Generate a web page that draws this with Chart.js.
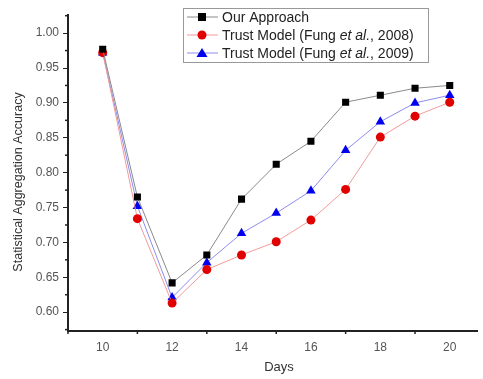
<!DOCTYPE html>
<html>
<head>
<meta charset="utf-8">
<script src="https://cdn.jsdelivr.net/npm/chart.js@4/dist/chart.umd.min.js"></script>
<style>
  html, body { margin: 0; padding: 0; background: #fff; }
  #wrap { width: 483px; height: 379px; }
</style>
</head>
<body>
<div id="wrap"><canvas id="accChart" width="483" height="379"></canvas></div>
<script>
// data
const days = [10, 11, 12, 13, 14, 15, 16, 17, 18, 19, 20];
const ourApproach = [0.977, 0.765, 0.642, 0.682, 0.762, 0.812, 0.845, 0.901, 0.911, 0.921, 0.925];
const trust2008 = [0.972, 0.734, 0.613, 0.661, 0.682, 0.701, 0.732, 0.776, 0.851, 0.881, 0.901];
const trust2009 = [0.972, 0.752, 0.621, 0.671, 0.713, 0.742, 0.774, 0.832, 0.873, 0.900, 0.911];
const yTicks = [0.60, 0.65, 0.70, 0.75, 0.80, 0.85, 0.90, 0.95, 1.00];
const xTicks = [10, 12, 14, 16, 18, 20];
const legendText = [
    ['Our Approach'],
    ['Trust Model (Fung ', 'et al.', ', 2008)'],
    ['Trust Model (Fung ', 'et al.', ', 2009)']
];
const xTitle = 'Days';
const yTitle = 'Statistical Aggregation Accuracy';

const FONT = '"Liberation Sans", Arial, sans-serif';
const toPoints = arr => arr.map((v, i) => ({ x: days[i], y: v }));

// minor ticks, axis titles + custom legend (mixed italic text)
const extras = {
    id: 'extras',
    afterDraw(chart) {
        const ctx = chart.ctx;
        const xs = chart.scales.x, ys = chart.scales.y;
        ctx.save();
        ctx.strokeStyle = '#222';
        ctx.lineWidth = 1.5;
        // minor ticks
        for (let d = 9; d <= 21; d++) {
            if (d % 2 === 0) continue;
            const px = xs.getPixelForValue(d);
            if (px < xs.left || px > xs.right) continue;
            ctx.beginPath();
            ctx.moveTo(px, xs.top);
            ctx.lineTo(px, xs.top + 3);
            ctx.stroke();
        }
        for (let v = 0.575; v < 1.03; v += 0.05) {
            const py = ys.getPixelForValue(v);
            if (py < ys.top || py > ys.bottom) continue;
            ctx.beginPath();
            ctx.moveTo(ys.right, py);
            ctx.lineTo(ys.right - 3, py);
            ctx.stroke();
        }

        // axis titles
        ctx.fillStyle = '#333';
        ctx.textAlign = 'center';
        ctx.textBaseline = 'middle';
        ctx.font = '13px ' + FONT;
        ctx.fillText(xTitle, 279, 367);
        ctx.save();
        ctx.translate(19, 182);
        ctx.rotate(-Math.PI / 2);
        ctx.font = '12.5px ' + FONT;
        ctx.fillText(yTitle, 0, 0);
        ctx.restore();
        ctx.textAlign = 'left';

        // legend box
        const bx = 183, by = 8, bw = 245, bh = 54;
        ctx.fillStyle = '#fff';
        ctx.fillRect(bx, by, bw, bh);
        ctx.strokeStyle = '#999';
        ctx.lineWidth = 1;
        ctx.strokeRect(bx + 0.5, by + 0.5, bw, bh);
        const rowY = [17, 35, 53];
        chart.data.datasets.forEach((ds, i) => {
            const y = rowY[i];
            ctx.strokeStyle = ds.borderColor;
            ctx.lineWidth = 1;
            ctx.beginPath();
            ctx.moveTo(187, y);
            ctx.lineTo(218, y);
            ctx.stroke();
            ctx.fillStyle = ds.pointBackgroundColor;
            ctx.beginPath();
            if (ds.pointStyle === 'rect') {
                ctx.fillRect(198, y - 4, 8, 8);
            } else if (ds.pointStyle === 'circle') {
                ctx.arc(202, y, 4.5, 0, Math.PI * 2);
                ctx.fill();
            } else {
                ctx.moveTo(202, y - 5);
                ctx.lineTo(207.5, y + 4);
                ctx.lineTo(196.5, y + 4);
                ctx.closePath();
                ctx.fill();
            }
            let tx = 222;
            ctx.fillStyle = '#222';
            ctx.textBaseline = 'middle';
            legendText[i].forEach((part, j) => {
                ctx.font = (j === 1 ? 'italic ' : '') + '14px ' + FONT;
                ctx.fillText(part, tx, y + 1);
                tx += ctx.measureText(part).width;
            });
        });
        ctx.restore();
    }
};

new Chart(document.getElementById('accChart'), {
    type: 'line',
    data: {
        datasets: [{
            label: 'Our Approach',
            data: toPoints(ourApproach),
            borderColor: '#8a8a8a',
            borderWidth: 1,
            pointStyle: 'rect',
            pointRadius: 5,
            pointBackgroundColor: '#000',
            pointBorderColor: '#000',
            pointBorderWidth: 0
        }, {
            label: 'Trust Model (Fung et al., 2008)',
            data: toPoints(trust2008),
            borderColor: '#f29a9a',
            borderWidth: 1,
            pointStyle: 'circle',
            pointRadius: 4.5,
            pointBackgroundColor: '#e00000',
            pointBorderColor: '#e00000',
            pointBorderWidth: 0
        }, {
            label: 'Trust Model (Fung et al., 2009)',
            data: toPoints(trust2009),
            borderColor: '#8c8cf0',
            borderWidth: 1,
            pointStyle: 'triangle',
            pointRadius: 5.5,
            pointBackgroundColor: '#0000ee',
            pointBorderColor: '#0000ee',
            pointBorderWidth: 0
        }]
    },
    options: {
        responsive: false,
        animation: false,
        layout: { padding: { top: 15, right: 0, left: 0, bottom: 0 } },
        plugins: {
            legend: { display: false },
            tooltip: { enabled: false }
        },
        scales: {
            x: {
                type: 'linear',
                min: 9,
                max: 20.8,
                afterBuildTicks: s => { s.ticks = xTicks.map(v => ({ value: v })); },
                afterFit: s => { s.height = 48; },
                grid: { display: false, drawOnChartArea: false, drawTicks: true, tickLength: 5, color: '#222' },
                border: { color: '#222', width: 2 },
                ticks: {
                    color: '#555',
                    font: { family: FONT, size: 12 },
                    padding: 4
                },
                title: { display: false }
            },
            y: {
                min: 0.573,
                max: 1.026,
                afterBuildTicks: s => { s.ticks = yTicks.map(v => ({ value: v })); },
                afterFit: s => { s.width = 68; },
                grid: { display: true, drawOnChartArea: false, drawTicks: true, tickLength: 5, color: '#222' },
                border: { color: '#222', width: 2 },
                ticks: {
                    color: '#555',
                    font: { family: FONT, size: 12 },
                    padding: 4,
                    callback: v => v.toFixed(2)
                },
                title: { display: false }
            }
        }
    },
    plugins: [extras]
});
</script>
</body>
</html>
